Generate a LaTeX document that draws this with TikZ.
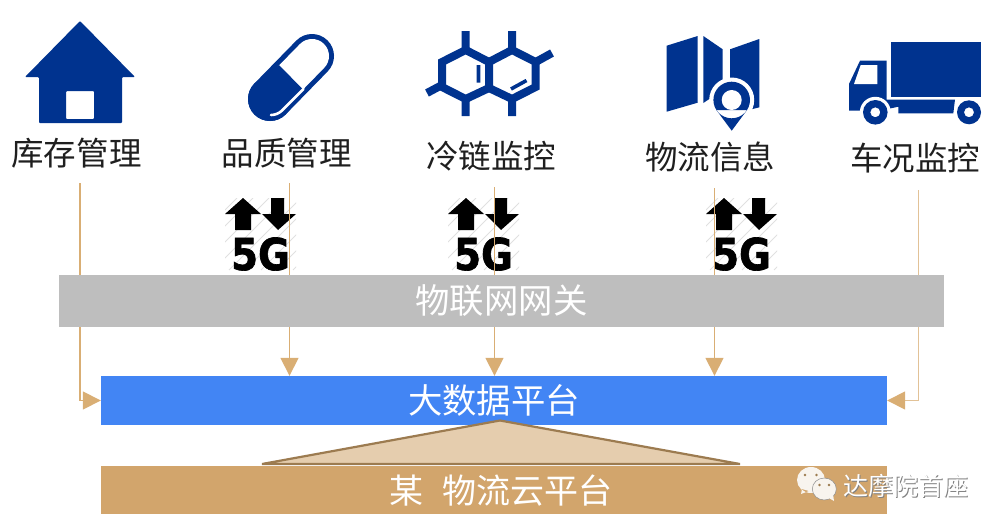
\documentclass[tikz,border=0pt]{standalone}
\usepackage{fontspec}
\setmainfont{Noto Sans CJK SC}
\newfontfamily\blockfont[FakeBold=1.6]{DejaVu Sans Bold}
\usetikzlibrary{arrows.meta, backgrounds}
\definecolor{iconblue}{HTML}{00338F}
\definecolor{gwgray}{HTML}{BEBEBE}
\definecolor{platblue}{HTML}{4285F4}
\definecolor{cloudtan}{HTML}{D2A56C}
\definecolor{flowtan}{HTML}{D9AE74}
\definecolor{rooftan}{HTML}{E5CDAE}
\definecolor{roofedge}{HTML}{9C7B50}
\definecolor{chatwhite}{HTML}{F8F4EE}
\tikzset{
    iconlabel/.style={inner sep=0pt, text=black!88, font=\fontsize{32.5}{36}\selectfont},
    bar/.style={rectangle, inner sep=0pt, text=white, minimum height=49pt,
                minimum width=786pt, font=\fontsize{34.4}{38}\selectfont},
    flow/.style={-{Triangle[length=18pt, width=18pt, color=flowtan, fill=flowtan]}, flowtan, line width=1.6pt},
    icon/.style={fill=iconblue, draw=none},
    stamp/.style={inner sep=0pt, font=\fontsize{25}{28}\selectfont},
    fiveg/.pic={
        \begin{scope}
            \clip (0,0) rectangle (71,72);
            \foreach \d in {-60,-44,...,70}
                \draw[black!12, line width=0.8pt] (\d,72) -- (\d+72,0);
        \end{scope}
        \fill[black] (18,0) -- (36,16) -- (26,16) -- (26,32) -- (10,32) -- (10,16) -- (0,16) -- cycle;
        \fill[black] (46,0) -- (59,0) -- (59,16) -- (71,16) -- (53,32) -- (37,16) -- (46,16) -- cycle;
        \node[inner sep=0pt, xscale=0.88, transform shape, font=\blockfont\fontsize{44}{44}\selectfont] (-txt) at (35.5,56) {5G};
    }
}
\begin{document}
\begin{tikzpicture}[x=1pt, y=-1pt]
    \useasboundingbox (0,0) rectangle (1001,530);
    \node[iconlabel] (store) at (76.5,153) {库存管理};
    \node[iconlabel] (quality) at (286.5,153) {品质管理};
    \node[iconlabel] (cold) at (491,156) {冷链监控};
    \node[iconlabel] (logi) at (710,157) {物流信息};
    \node[iconlabel] (truck) at (915,158) {车况监控};
    \node[bar, fill=gwgray, minimum width=885pt, minimum height=52pt] (gw) at (501.5,301) {物联网网关};
    \node[bar, fill=platblue] (data) at (494,400.5) {大数据平台};
    \node[bar, fill=cloudtan, minimum height=48pt] (cloud) at (494,489.5) {};
    \node[inner sep=0pt, text=white, font=\fontsize{34}{38}\selectfont] (cloudtxt) at (501,491) {某\hspace{0.55em}物流云平台};
    \coordinate (c1) at (80,183);
    \coordinate (c2) at (289.5,183);
    \coordinate (c3) at (494.5,187);
    \coordinate (c4) at (714.5,188);
    \coordinate (c5) at (918.5,190);
    \begin{pgfonlayer}{background}
        \pic (g1) at (225,198) {fiveg};
        \pic (g2) at (448,198) {fiveg};
        \pic (g3) at (706,198) {fiveg};
        \draw[flow] (c1) |- (data.west);
        \draw[flow] (c2) -- (data.north -| c2);
        \draw[flow] (c3) -- (data.north -| c3);
        \draw[flow] (c4) -- (data.north -| c4);
        \draw[flow, flowtan!75] (c5) |- (data.east);
    \end{pgfonlayer}
    \draw[fill=rooftan, draw=roofedge, line width=2.2pt] (262,464) -- (500,420.5) -- (740,464) -- cycle;
    \fill[icon, rounded corners=1pt, even odd rule] (80,21) -- (135,77) -- (122,77) -- (122,123) -- (39,123) -- (39,77) -- (25,77) -- cycle
        (66,91) rectangle (94,119);
    \draw[iconblue, line width=44pt, line cap=round] (270,99) -- (312,56);
    \draw[white, line width=34pt, line cap=round] (270,99) -- (312,56);
    \fill[icon] (270,99) circle (22) (254.5,83.5) -- (279,65) -- (303,89.5) -- (285.5,114.5) -- cycle;
    \draw[white, line width=2.6pt, line cap=round] (303.5,89) -- (282,110.5) .. controls (279,113.5) and (275,115) .. (271,115);
    \draw[iconblue, line width=8pt, miter limit=4] (465.7,50) -- (489,62) -- (489,88) -- (465.7,99) -- (442,87) -- (442,62) -- cycle;
    \draw[iconblue, line width=8pt, miter limit=4] (489,62) -- (512,50) -- (535.7,62) -- (535.7,87) -- (512,99) -- (489,88);
    \draw[iconblue, line width=8pt] (465.7,31) -- (465.7,50) (512,31) -- (512,50) (465.7,99) -- (465.7,116) (512,99) -- (512,116) (535.7,62) -- (552,53) (442,85) -- (427,93);
    \draw[iconblue, line width=3.6pt] (478.5,65) -- (478.5,82.5) (511,89) -- (526.5,80.5);
    \fill[icon] (666.7,45.7) -- (697.7,36) -- (697.7,102.7) -- (666.7,111.7) -- cycle;
    \fill[icon] (703.3,36) -- (722.7,49.3) -- (722.7,90) -- (703.3,103) -- cycle;
    \fill[icon] (730,49.3) -- (759.3,39) -- (759.3,107.3) -- (745,111) -- (730,90) -- cycle;
    \fill[white] (731.7,100) circle (22.5);
    \fill[icon] (731.7,100) circle (18.3) (716.5,110.2) -- (731.7,130.7) -- (746.9,110.2) -- cycle;
    \fill[white] (731.7,100) circle (10);
    \fill[icon] (860,60.7) -- (886.7,60.7) -- (886.7,99.5) -- (955,99.5) -- (953.3,113.3) -- (898.3,113.3) -- (898.3,106.7) -- (880,110.7) -- (849,110.7) -- (849,84) -- cycle;
    \fill[white] (860.7,65) -- (877.3,65) -- (877.3,84) -- (854,84) -- cycle;
    \fill[icon] (891,41.7) rectangle (980.7,97.3);
    \fill[white] (875.3,112.3) circle (15.5) (969,112.3) circle (15);
    \fill[icon, even odd rule] (875.3,112.3) circle (12.3) circle (5);
    \fill[icon, even odd rule] (969,112.3) circle (12) circle (5);
    \fill[chatwhite] (811,480) ellipse (14 and 13) (802,489) -- (801,494) -- (809,491) -- cycle;
    \fill[chatwhite, draw=black!45, line width=0.5pt] (824.3,489) ellipse (12 and 11);
    \fill[chatwhite] (829,498) -- (834,501) -- (833,494) -- cycle;
    \fill[roofedge] (805,475) circle (1.3) (816.5,475) circle (1.3) (819.5,485) circle (1.3) (829,485) circle (1.3);
    \node[stamp, text=black!50] (stampsh) at (906.5,486.5) {达摩院首座};
    \node[stamp, text=white] (stamptxt) at (906,486) {达摩院首座};
\end{tikzpicture}
\end{document}
